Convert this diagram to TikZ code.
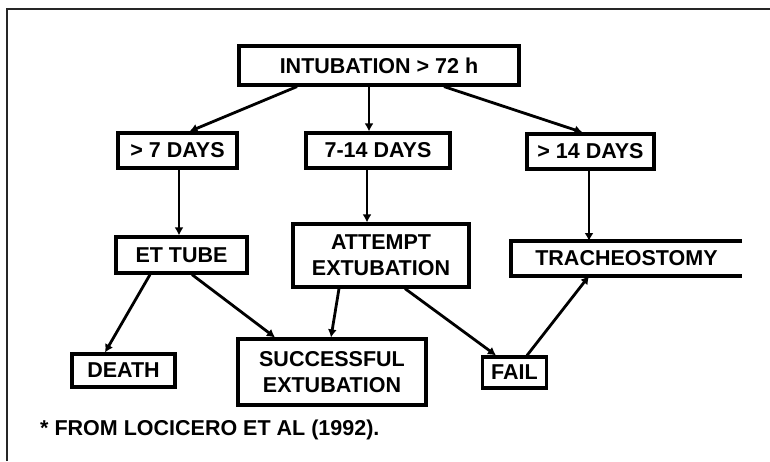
\documentclass[tikz,border=0pt]{standalone}
\usepackage{fontspec}
\setmainfont{Liberation Sans}
\usetikzlibrary{arrows.meta}
\begin{document}
\begin{tikzpicture}[x=1pt,y=-1pt,
  box/.style={draw,line width=3.2pt,inner sep=0pt,align=center,
    font=\bfseries\fontsize{21.5}{26}\selectfont},
  conn/.style={line width=2.8pt,-{Latex[length=8pt,width=9pt]}},
  frameline/.style={line width=1.6pt,black!85}]
\useasboundingbox (0,0) rectangle (770,461);
\draw[frameline] (7,461) -- (7,9) -- (770,9);
\node[box,minimum width=280pt,minimum height=39pt] (intub) at (379,65.5) {INTUBATION > 72 h};
\node[box,minimum width=119pt,minimum height=35pt] (d7) at (177.5,150.5) {> 7 DAYS};
\node[box,minimum width=144pt,minimum height=35pt] (d714) at (378,150.5) {7-14 DAYS};
\node[box,minimum width=127pt,minimum height=35pt] (d14) at (590.5,151.5) {> 14 DAYS};
\node[box,minimum width=131pt,minimum height=36pt] (ett) at (181.5,255) {ET TUBE};
\node[box,minimum width=176pt,minimum height=63pt] (att) at (381,255.5) {ATTEMPT\\EXTUBATION};
\node[box,draw=none,outer sep=0pt,minimum width=231pt,minimum height=35pt] (trach) at (626.5,258.5) {TRACHEOSTOMY};
\draw[line width=3.2pt,line join=miter] (trach.north east) -- (trach.north west) -- (trach.south west) -- (trach.south east);
\node[box,minimum width=103pt,minimum height=33pt] (death) at (123.5,370.5) {DEATH};
\node[box,minimum width=188pt,minimum height=66pt] (succ) at (332,372) {SUCCESSFUL\\EXTUBATION};
\node[box,minimum width=64pt,minimum height=31pt] (fail) at (514.5,372.5) {FAIL};
\node[anchor=west,inner sep=0pt,font=\bfseries\fontsize{21.5}{24}\selectfont] (note) at (40,430) {* FROM LOCICERO ET AL (1992).};
\draw[conn] ([xshift=-82pt]intub.south) -- ([xshift=12pt]d7.north);
\draw[conn] ([xshift=-10pt]intub.south) -- ([xshift=-10pt]intub.south |- d714.north);
\draw[conn] ([xshift=65pt]intub.south) -- ([xshift=-8pt]d14.north);
\draw[conn] ([xshift=1.5pt]d7.south) -- ([xshift=1.5pt]d7.south |- ett.north);
\draw[conn] ([xshift=-11pt]d714.south) -- ([xshift=-11pt]d714.south |- att.north);
\draw[conn] ([xshift=-1.5pt]d14.south) -- ([xshift=-1.5pt]d14.south |- trach.north);
\draw[conn] ([xshift=-31.5pt]ett.south) -- ([xshift=-18.5pt]death.north);
\draw[conn] ([xshift=10.5pt]ett.south) -- ([xshift=-57pt]succ.north);
\draw[conn] ([xshift=-42pt]att.south) -- ([xshift=-1pt]succ.north);
\draw[conn] ([xshift=24pt]att.south) -- ([xshift=-18.5pt]fail.north);
\draw[conn] ([xshift=12.5pt]fail.north) -- ([xshift=-37.5pt]trach.south);
\end{tikzpicture}
\end{document}
